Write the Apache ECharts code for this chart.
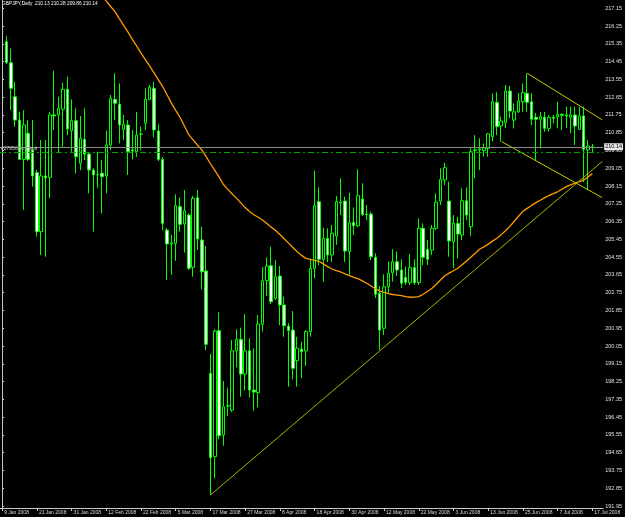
<!DOCTYPE html>
<html><head><meta charset="utf-8">
<script src="https://cdn.jsdelivr.net/npm/echarts@6/dist/echarts.min.js"></script>
<style>html,body{margin:0;padding:0;background:#000;}#c{width:625px;height:517px;}</style>
</head><body><div id="c"></div>
<script>
// ---- data (GBPJPY Daily, bars from 10 Jan 2008 to 17 Jul 2008) ----
const opens=[215.46,214.40,212.67,211.49,209.50,210.82,209.98,208.83,205.84,208.66,
208.59,211.75,211.75,212.04,213.05,210.95,211.46,209.30,210.52,209.77,
208.96,208.71,208.80,208.66,210.23,212.54,212.30,211.02,211.24,209.98,
209.89,210.77,211.33,212.54,213.10,210.94,209.50,205.92,205.22,205.25,
207.11,206.23,206.68,204.04,207.56,205.42,203.85,198.67,194.45,200.83,
195.55,197.01,196.81,199.81,200.39,198.63,199.81,197.82,197.69,201.15,
203.36,204.12,202.46,203.59,202.13,201.06,200.86,199.31,199.90,199.80,
200.78,203.98,207.36,204.44,205.50,204.66,205.62,207.29,207.39,204.83,
206.31,206.14,207.49,206.73,206.73,204.54,202.72,200.95,203.05,203.76,
204.32,203.90,203.53,203.26,204.02,203.26,206.01,204.95,204.91,206.01,
207.39,208.46,207.39,205.33,206.26,205.67,207.41,206.09,209.98,209.98,
209.94,210.06,210.65,212.39,211.19,211.36,212.96,211.49,211.91,212.42,
212.85,212.42,211.63,211.53,211.63,211.07,211.63,211.66,211.78,211.75,
211.63,211.75,211.02,211.70,209.98,210.13];
const closes=[214.40,213.10,211.49,209.50,211.24,209.50,208.66,205.84,208.66,208.56,
211.75,211.70,212.09,213.05,211.04,211.46,209.64,210.57,209.77,208.96,
208.71,208.74,208.62,210.23,212.59,212.34,211.24,211.28,209.89,209.92,
210.73,210.78,212.54,213.15,210.99,209.50,206.26,205.22,205.27,207.16,
206.21,206.90,203.99,207.53,205.47,203.81,200.14,194.40,200.81,195.51,
196.98,197.03,199.81,200.39,198.63,199.81,197.82,197.72,201.16,203.36,
204.10,202.29,203.56,202.13,201.08,200.83,198.92,199.94,199.76,200.78,
203.98,207.16,204.44,205.50,204.66,205.76,207.36,207.34,204.86,206.29,
206.14,207.66,206.72,206.71,204.57,202.67,200.86,203.05,203.73,204.32,
203.90,203.23,203.28,204.02,203.26,206.01,204.54,204.44,206.01,207.33,
208.49,209.08,205.37,206.26,205.72,207.41,206.68,209.89,209.95,210.03,
210.09,210.79,212.42,211.16,211.44,212.96,211.95,211.91,212.46,212.88,
212.39,211.53,211.53,211.66,211.07,211.63,211.58,211.78,211.73,211.70,
211.75,211.19,211.70,210.01,210.18,210.14];
const highs=[215.75,215.12,213.43,211.91,211.99,211.49,211.49,208.96,210.48,210.48,
211.91,213.99,212.67,213.38,213.69,212.54,212.09,211.70,212.09,209.87,
209.06,209.89,209.47,210.95,212.76,213.86,213.35,211.75,211.49,210.99,
211.91,211.16,213.10,213.27,213.43,211.28,209.62,206.03,205.67,207.73,
207.58,207.95,206.77,207.65,207.95,206.09,205.11,199.65,200.90,201.76,
198.28,197.94,200.36,200.90,200.98,201.67,200.44,199.93,201.62,204.04,
204.54,205.08,204.40,204.10,202.55,201.20,201.82,200.52,200.27,200.86,
204.44,208.93,208.09,206.04,206.01,206.18,207.65,208.54,207.61,207.81,
207.07,209.00,208.29,207.19,206.85,204.74,203.09,203.68,204.32,204.95,
204.83,204.44,204.07,204.71,204.44,206.52,206.26,205.42,206.18,207.78,
209.05,209.33,208.37,206.68,206.60,208.04,208.09,210.06,210.73,210.57,
210.31,210.84,212.85,212.90,211.66,213.27,213.22,212.34,212.85,213.35,
213.86,212.85,211.85,211.91,211.91,211.75,211.75,212.42,211.83,212.17,
212.17,212.17,212.17,212.17,210.48,210.28];
const lows=[214.33,212.00,211.16,209.47,206.94,209.42,208.12,205.59,204.66,204.57,
207.53,210.99,209.81,210.14,210.73,209.89,208.80,208.96,209.47,207.78,
205.84,208.04,206.77,207.78,209.98,211.49,210.31,210.48,208.71,209.50,
209.64,209.98,210.99,212.51,210.62,209.42,205.92,203.39,203.65,204.36,
205.84,204.78,203.90,203.56,204.91,202.92,199.85,192.51,193.35,195.33,
195.00,196.51,196.71,198.97,197.48,197.79,197.45,196.77,196.95,200.78,
202.58,202.18,202.38,201.11,200.52,197.99,198.37,197.99,198.42,199.04,
200.52,203.48,204.15,203.31,204.30,204.30,205.17,206.68,204.30,203.65,
205.67,206.09,206.63,206.43,204.41,202.48,199.85,200.61,202.73,203.31,
203.60,203.00,203.14,203.14,203.14,203.14,204.15,204.15,204.66,205.92,
207.19,208.20,204.57,203.98,204.49,205.42,206.43,205.62,208.54,208.96,
209.64,209.64,210.40,210.73,210.40,211.09,211.58,211.07,211.85,211.91,
211.91,211.24,209.47,210.06,210.90,210.90,211.33,211.07,210.99,211.09,
210.82,210.23,210.99,208.35,208.00,209.86];
// moving average (orange), one value per bar, null where it runs above the chart
const maValues=[null,null,null,null,null,null,null,null,null,null,
null,null,null,null,null,null,null,null,null,null,null,null,
217.77,217.51,217.24,216.98,216.63,216.29,215.94,215.58,215.23,214.88,
214.55,214.22,213.88,213.53,213.18,212.77,212.35,211.98,211.62,211.19,
210.75,210.49,210.23,209.98,209.64,209.28,208.94,208.60,208.23,207.98,
207.75,207.54,207.30,207.06,206.86,206.70,206.57,206.43,206.25,206.07,
205.90,205.70,205.48,205.26,205.04,204.82,204.64,204.49,204.44,204.39,
204.34,204.21,204.07,203.95,203.87,203.80,203.70,203.61,203.53,203.46,
203.35,203.23,203.09,202.96,202.83,202.77,202.70,202.66,202.63,202.60,
202.55,202.52,202.53,202.55,202.67,202.81,202.96,203.17,203.39,203.61,
203.74,203.86,203.99,204.17,204.36,204.55,204.75,204.95,205.07,205.21,
205.36,205.51,205.69,205.89,206.11,206.37,206.62,206.87,207.02,207.17,
207.31,207.43,207.55,207.67,207.77,207.86,207.99,208.12,208.21,208.30,
208.38,208.45,208.61,208.78];
// trend lines: [bar position, price] (bar position counted on the date axis)
const supportLine=[[48,192.51],[138.3,209.40]];
const channelUpper=[[121,213.86],[138.3,211.50]];
const channelLower=[[115.1,210.40],[138.3,207.56]];
const bidPrice=210.14;
const buyLimitPrice=209.85;
const headerText='GBPJPY,Daily  210.13 210.28 209.86 210.14';
const orderLabel='#27956 buy limit';
const priceTicks=[217.15,216.25,215.35,214.45,213.55,212.65,211.75,210.85,209.95,209.05,
208.15,207.25,206.35,205.45,204.55,203.65,202.75,201.85,200.95,200.05,199.15,198.25,
197.35,196.45,195.55,194.65,193.75,192.85,191.95];
const dateTicks=['9 Jan 2008','21 Jan 2008','31 Jan 2008','12 Feb 2008','22 Feb 2008','5 Mar 2008',
'17 Mar 2008','27 Mar 2008','8 Apr 2008','18 Apr 2008','30 Apr 2008','12 May 2008','22 May 2008',
'3 Jun 2008','13 Jun 2008','25 Jun 2008','7 Jul 2008','17 Jul 2008'];

// ---- categories: weekdays from 9 Jan 2008 (off-screen bar) to 17 Jul 2008, then 2 empty slots ----
const MON=['Jan','Feb','Mar','Apr','May','Jun','Jul','Aug','Sep','Oct','Nov','Dec'];
const categories=[];
for(let t=Date.UTC(2008,0,9);t<=Date.UTC(2008,6,17);t+=86400000){
  const d=new Date(t);const wd=d.getUTCDay();
  if(wd===0||wd===6)continue;
  categories.push(d.getUTCDate()+' '+MON[d.getUTCMonth()]+' '+d.getUTCFullYear());
}
categories.push('');categories.push('');
const N=categories.length;
const tickSet=new Set(dateTicks);
const ohlc=categories.map((c,j)=>{const i=j-1;
  if(i<0||i>=opens.length)return ['-','-','-','-'];
  return [opens[i],closes[i],lows[i],highs[i]];});
const maData=categories.map((c,j)=>{const i=j-1;return (i<0||i>=maValues.length)?null:maValues[i];});

const chart=echarts.init(document.getElementById('c'),null,{renderer:'canvas'});
const axisColor='#c8c8c8';
const font='Liberation Sans';
chart.setOption({
  backgroundColor:'#000000',
  animation:false,
  grid:{left:-3.4,right:19,top:0,bottom:9},
  xAxis:[{
    type:'category',data:categories,boundaryGap:true,
    axisLine:{show:true,onZero:false,lineStyle:{color:axisColor,width:1}},
    axisTick:{show:true,alignWithLabel:true,length:3,interval:(idx,val)=>tickSet.has(val),lineStyle:{color:axisColor}},
    axisLabel:{show:true,interval:(idx,val)=>tickSet.has(val),align:'left',margin:2,padding:[0,0,0,2],
      color:'#d8d8d8',fontSize:5,fontFamily:font},
    splitLine:{show:false}
  },{
    type:'value',min:-0.5,max:N-0.5,show:false
  }],
  yAxis:{
    type:'value',position:'right',min:191.85,max:217.57,scale:true,
    splitLine:{show:false},
    axisLine:{show:true,lineStyle:{color:axisColor,width:1}},
    axisTick:{show:true,customValues:priceTicks,length:2,lineStyle:{color:axisColor}},
    axisLabel:{show:true,customValues:priceTicks,formatter:v=>Number(v).toFixed(2),margin:2,
      color:'#e0e0e0',fontSize:5.5,fontFamily:font}
  },
  graphic:[{type:'text',left:2,top:1,silent:true,
    style:{text:headerText,fill:'#ffffff',fontSize:4.8,fontFamily:font}}],
  series:[
    {type:'candlestick',name:'GBPJPY',data:ohlc,barWidth:3,
     itemStyle:{color:'#000000',color0:'#ffffff',borderColor:'#00ff00',borderColor0:'#00ff00',borderWidth:1},
     markLine:{silent:true,symbol:['none','none'],animation:false,
       data:[
        {yAxis:bidPrice,lineStyle:{color:'#8c8c8c',width:1,type:'solid'},
         label:{show:true,position:'end',distance:1,formatter:bidPrice.toFixed(2),color:'#000',
           backgroundColor:'#e6e6e6',padding:[1,1,0,1],fontSize:5.5,fontFamily:font}},
        {yAxis:buyLimitPrice,lineStyle:{color:'#00a000',width:1,type:[6,3,2,3]},
         label:{show:true,position:'insideStartTop',distance:1,formatter:orderLabel,color:'#c8c8c8',
           fontSize:5,fontFamily:font}}
       ]}
    },
    {type:'line',name:'MA',data:maData,symbol:'none',connectNulls:false,
     lineStyle:{color:'#ff9c00',width:1.3},itemStyle:{color:'#ff9c00'},z:3},
    {type:'line',xAxisIndex:1,data:supportLine,symbol:'none',lineStyle:{color:'#b0b000',width:1},z:4},
    {type:'line',xAxisIndex:1,data:channelUpper,symbol:'none',lineStyle:{color:'#cccc00',width:1},z:4},
    {type:'line',xAxisIndex:1,data:channelLower,symbol:'none',lineStyle:{color:'#cccc00',width:1},z:4}
  ]
});
</script></body></html>
